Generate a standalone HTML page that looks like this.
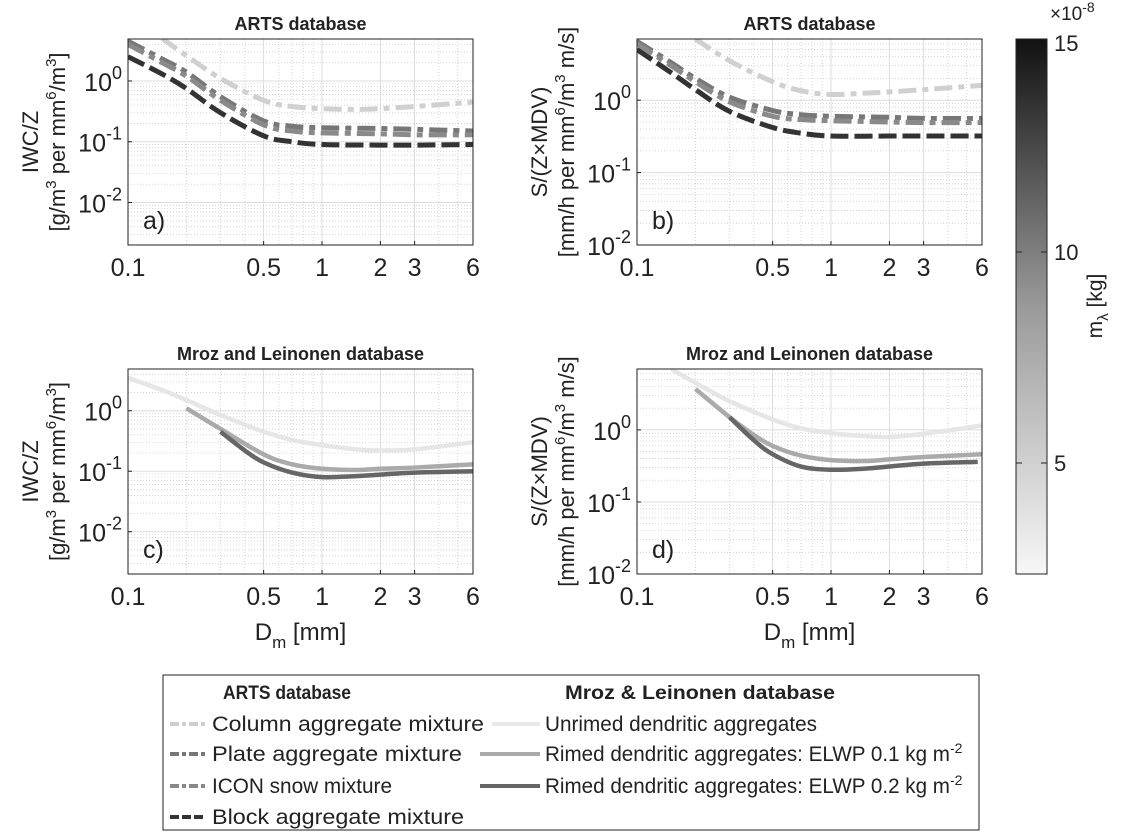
<!DOCTYPE html>
<html><head><meta charset="utf-8"><style>
body{margin:0;background:#fff;}
svg text{font-family:"Liberation Sans",Arial,sans-serif;fill:#222;}
</style></head><body>
<svg id="fig" width="1121" height="831" viewBox="0 0 1121 831" xmlns="http://www.w3.org/2000/svg">
<defs>
<linearGradient id="cbg" x1="0" y1="1" x2="0" y2="0">
<stop offset="0" stop-color="#f7f7f7"/><stop offset="0.5" stop-color="#9a9a9a"/><stop offset="1" stop-color="#111"/>
</linearGradient>
</defs>
<g id="panels"></g>
<g>
<rect x="1016" y="39" width="31" height="535" fill="url(#cbg)" stroke="#222" stroke-width="1"/>
<line x1="1016" y1="463" x2="1022" y2="463" stroke="#222"/><line x1="1041" y1="463" x2="1047" y2="463" stroke="#222"/>
<line x1="1016" y1="252" x2="1022" y2="252" stroke="#222"/><line x1="1041" y1="252" x2="1047" y2="252" stroke="#222"/>
<text x="1054" y="471" font-size="22">5</text>
<text x="1054" y="260" font-size="22">10</text>
<text x="1054" y="51" font-size="22">15</text>
<text x="1050" y="20" font-size="19">×10<tspan dy="-8" font-size="14">-8</tspan></text>
<text transform="translate(1102,306) rotate(-90)" text-anchor="middle" font-size="21">m<tspan dy="6" font-size="15">λ</tspan><tspan dy="-6"> [kg]</tspan></text>
</g>
<g>
<rect x="163" y="675" width="816" height="155" fill="#fff" stroke="#222" stroke-width="1"/>
<text x="287" y="699" font-size="19" font-weight="bold" text-anchor="middle" textLength="128" lengthAdjust="spacingAndGlyphs">ARTS database</text>
<text x="700" y="699" font-size="19" font-weight="bold" text-anchor="middle" textLength="270" lengthAdjust="spacingAndGlyphs">Mroz &amp; Leinonen database</text>
<g font-size="21">
<line x1="170" y1="724" x2="205" y2="724" stroke="#cfcfcf" stroke-width="4" stroke-dasharray="9,3,4,3"/>
<text x="212" y="731" textLength="272" lengthAdjust="spacingAndGlyphs">Column aggregate mixture</text>
<line x1="170" y1="754" x2="205" y2="754" stroke="#777" stroke-width="4" stroke-dasharray="9,3,4,3"/>
<text x="212" y="761" textLength="250" lengthAdjust="spacingAndGlyphs">Plate aggregate mixture</text>
<line x1="170" y1="786" x2="205" y2="786" stroke="#888" stroke-width="4" stroke-dasharray="9,3,4,3"/>
<text x="212" y="793" textLength="180" lengthAdjust="spacingAndGlyphs">ICON snow mixture</text>
<line x1="170" y1="817" x2="205" y2="817" stroke="#333" stroke-width="4" stroke-dasharray="9,3"/>
<text x="212" y="824" textLength="252" lengthAdjust="spacingAndGlyphs">Block aggregate mixture</text>
<line x1="492" y1="724" x2="540" y2="724" stroke="#e8e8e8" stroke-width="4"/>
<text x="545" y="731" textLength="272" lengthAdjust="spacingAndGlyphs">Unrimed dendritic aggregates</text>
<line x1="480" y1="754" x2="540" y2="754" stroke="#aaa" stroke-width="4"/>
<text x="545" y="761"><tspan textLength="405" lengthAdjust="spacingAndGlyphs">Rimed dendritic aggregates: ELWP 0.1 kg m</tspan><tspan dy="-8" font-size="14">-2</tspan></text>
<line x1="480" y1="786" x2="540" y2="786" stroke="#666" stroke-width="4"/>
<text x="545" y="793"><tspan textLength="405" lengthAdjust="spacingAndGlyphs">Rimed dendritic aggregates: ELWP 0.2 kg m</tspan><tspan dy="-8" font-size="14">-2</tspan></text>
</g>
</g>
</svg>
<script>
// Data arrays (D_m in mm, ratio values)
const aColumnX=[0.15,0.2,0.3,0.5,0.7,1,1.5,2,3,6];
const aColumnY=[5,2.6,1.1,0.48,0.38,0.35,0.34,0.35,0.38,0.45];
const aPlateX=[0.1,0.15,0.2,0.3,0.5,0.7,1,2,3,6];
const aPlateY=[4.5,2.3,1.4,0.55,0.22,0.18,0.17,0.165,0.16,0.15];
const aIconX=[0.1,0.15,0.2,0.3,0.5,0.7,1,2,3,6];
const aIconY=[4,2,1.2,0.48,0.19,0.15,0.14,0.135,0.13,0.13];
const aBlockX=[0.1,0.15,0.2,0.3,0.5,0.7,1,2,3,6];
const aBlockY=[2.5,1.3,0.75,0.3,0.125,0.1,0.09,0.088,0.088,0.09];
const bColumnX=[0.2,0.3,0.5,0.7,1,1.5,2,3,6];
const bColumnY=[7,3.5,1.8,1.35,1.2,1.25,1.3,1.4,1.6];
const bPlateX=[0.1,0.15,0.2,0.3,0.5,0.7,1,2,3,6];
const bPlateY=[6.5,3.3,2,1.1,0.72,0.63,0.6,0.58,0.56,0.56];
const bIconX=[0.1,0.15,0.2,0.3,0.5,0.7,1,2,3,6];
const bIconY=[6,3,1.8,0.95,0.6,0.54,0.52,0.5,0.49,0.49];
const bBlockX=[0.1,0.15,0.2,0.3,0.5,0.7,1,2,3,6];
const bBlockY=[5,2.4,1.4,0.7,0.42,0.35,0.32,0.32,0.32,0.32];
const cUnrimedX=[0.1,0.15,0.2,0.3,0.5,0.7,1,1.5,2,3,6];
const cUnrimedY=[3.5,2.2,1.5,0.85,0.45,0.33,0.27,0.23,0.22,0.23,0.3];
const cRimed1X=[0.2,0.3,0.5,0.7,1,1.5,2,3,6];
const cRimed1Y=[1.1,0.5,0.19,0.13,0.11,0.105,0.11,0.115,0.13];
const cRimed2X=[0.3,0.4,0.5,0.7,1,1.5,2,3,6];
const cRimed2Y=[0.45,0.22,0.14,0.095,0.08,0.083,0.088,0.095,0.1];
const dUnrimedX=[0.15,0.2,0.3,0.5,0.7,1,1.5,2,3,6];
const dUnrimedY=[7,4.5,2.5,1.4,1.05,0.9,0.82,0.8,0.88,1.15];
const dRimed1X=[0.2,0.3,0.4,0.5,0.7,1,1.5,2,3,6];
const dRimed1Y=[3.7,1.5,0.85,0.6,0.44,0.38,0.37,0.39,0.42,0.46];
const dRimed2X=[0.3,0.4,0.5,0.7,1,1.5,2,3,5.7];
const dRimed2Y=[1.5,0.72,0.46,0.31,0.28,0.29,0.31,0.34,0.36];
const xTicks=[0.1,0.5,1,2,3,6];
const xTickLabels=["0.1","0.5","1","2","3","6"];
const yTickExps=[-2,-1,0];

const NS="http://www.w3.org/2000/svg";
function mk(tag,attrs,parent){const e=document.createElementNS(NS,tag);for(const k in attrs)e.setAttribute(k,attrs[k]);parent.appendChild(e);return e;}
const root=document.getElementById('panels');
const DASHDOT="18,6,6,6", DASH="18,6";
const lab2a='[g/m<tspan dy="-9" font-size="15">3</tspan><tspan dy="9"> per mm</tspan><tspan dy="-9" font-size="15">6</tspan><tspan dy="9">/m</tspan><tspan dy="-9" font-size="15">3</tspan><tspan dy="9">]</tspan>';
const lab2b='[mm/h per mm<tspan dy="-9" font-size="15">6</tspan><tspan dy="9">/m</tspan><tspan dy="-9" font-size="15">3</tspan><tspan dy="9"> m/s]</tspan>';
const panels=[
 {id:'a',x0:128,x1:473,y0:39,y1:245,ymin:0.002,ymax:4.9,title:'ARTS database',lab1:'IWC/Z',lab2:lab2a,letter:'a)',xlabel:false,
  series:[[aColumnX,aColumnY,'#d0d0d0',DASHDOT],[aPlateX,aPlateY,'#777',DASHDOT],[aIconX,aIconY,'#8a8a8a',DASHDOT],[aBlockX,aBlockY,'#333',DASH]]},
 {id:'b',x0:637,x1:982,y0:39,y1:245,ymin:0.01,ymax:7,title:'ARTS database',lab1:'S/(Z×MDV)',lab2:lab2b,letter:'b)',xlabel:false,
  series:[[bColumnX,bColumnY,'#d0d0d0',DASHDOT],[bPlateX,bPlateY,'#777',DASHDOT],[bIconX,bIconY,'#8a8a8a',DASHDOT],[bBlockX,bBlockY,'#333',DASH]]},
 {id:'c',x0:128,x1:473,y0:369,y1:574,ymin:0.002,ymax:4.9,title:'Mroz and Leinonen database',lab1:'IWC/Z',lab2:lab2a,letter:'c)',xlabel:true,
  series:[[cUnrimedX,cUnrimedY,'#e6e6e6',null],[cRimed1X,cRimed1Y,'#aaa',null],[cRimed2X,cRimed2Y,'#666',null]]},
 {id:'d',x0:637,x1:982,y0:369,y1:574,ymin:0.01,ymax:7,title:'Mroz and Leinonen database',lab1:'S/(Z×MDV)',lab2:lab2b,letter:'d)',xlabel:true,
  series:[[dUnrimedX,dUnrimedY,'#e6e6e6',null],[dRimed1X,dRimed1Y,'#aaa',null],[dRimed2X,dRimed2Y,'#666',null]]}
];
panels.forEach(p=>{
 const g=mk('g',{},root);
 
 
 const lx0=Math.log10(0.1),lx1=Math.log10(6),ly0=Math.log10(p.ymin),ly1=Math.log10(p.ymax);
 const X=v=>p.x0+(Math.log10(v)-lx0)/(lx1-lx0)*(p.x1-p.x0);
 const Y=v=>p.y1-(Math.log10(v)-ly0)/(ly1-ly0)*(p.y1-p.y0);
 [0.2,0.3,0.4,0.6,0.7,0.8,0.9,2,3,4,5].forEach(v=>mk('line',{x1:X(v),x2:X(v),y1:p.y0,y2:p.y1,stroke:'#ccc','stroke-width':0.8,'stroke-dasharray':'1,2'},g));
 [0.5,1,2,3].forEach(v=>mk('line',{x1:X(v),x2:X(v),y1:p.y0,y2:p.y1,stroke:'#ddd','stroke-width':1},g));
 for(let e=-3;e<=1;e++){for(let m=1;m<10;m++){const v=m*Math.pow(10,e);if(v<=p.ymin||v>=p.ymax)continue;
   if(m==1)mk('line',{x1:p.x0,x2:p.x1,y1:Y(v),y2:Y(v),stroke:'#ddd','stroke-width':1},g);
   else mk('line',{x1:p.x0,x2:p.x1,y1:Y(v),y2:Y(v),stroke:'#ccc','stroke-width':0.8,'stroke-dasharray':'1,2'},g);}}
 const clip=mk('clipPath',{id:'clip'+p.id},g);mk('rect',{x:p.x0,y:p.y0,width:p.x1-p.x0,height:p.y1-p.y0},clip);
 p.series.forEach((s,i)=>{
  const xs=s[0],ys=s[1];
  const pts=xs.map((x,k)=>[X(x),Y(ys[k])]);
  let d='M'+pts[0][0]+','+pts[0][1];
  for(let k=0;k<pts.length-1;k++){const p0=pts[Math.max(0,k-1)],p1=pts[k],p2=pts[k+1],p3=pts[Math.min(pts.length-1,k+2)];
   d+=' C'+(p1[0]+(p2[0]-p0[0])/6)+','+(p1[1]+(p2[1]-p0[1])/6)+' '+(p2[0]-(p3[0]-p1[0])/6)+','+(p2[1]-(p3[1]-p1[1])/6)+' '+p2[0]+','+p2[1];}
  const attrs={d:d,fill:'none',stroke:s[2],'stroke-width':s[3]?5:4.5,'clip-path':'url(#clip'+p.id+')'};
  if(s[3])attrs['stroke-dasharray']=s[3];
  const path=mk('path',attrs,g);
  
  
 });
 mk('rect',{x:p.x0,y:p.y0,width:p.x1-p.x0,height:p.y1-p.y0,fill:'none',stroke:'#222','stroke-width':1},g);
 xTicks.forEach((v,i)=>{mk('line',{x1:X(v),x2:X(v),y1:p.y1,y2:p.y1-4,stroke:'#222'},g);
  const t=mk('text',{x:X(v),y:p.y1+31,'font-size':25,'text-anchor':'middle'},g);t.textContent=xTickLabels[i];
  
  });
 yTickExps.forEach(e=>{const v=Math.pow(10,e);if(v<p.ymin*0.999)return;
  mk('line',{x1:p.x0,x2:p.x0+4,y1:Y(v),y2:Y(v),stroke:'#222'},g);
  const t=mk('text',{x:p.x0-6,y:Y(v)+10,'font-size':25,'text-anchor':'end'},g);
  t.innerHTML='10<tspan dy="-12" font-size="18">'+e+'</tspan>';
  
  });
 const ti=mk('text',{x:(p.x0+p.x1)/2,y:p.y0-9,'font-size':18,'font-weight':'bold','text-anchor':'middle',fill:'#000'},g);ti.textContent=p.title;
 
 
 const le=mk('text',{x:p.x0+15,y:p.y1-16,'font-size':25},g);le.textContent=p.letter;
 
 
 const cy=(p.y0+p.y1)/2, bx=p.x0-98;
 const l1=mk('text',{transform:'translate('+(bx+8)+','+cy+') rotate(-90)','font-size':22,'text-anchor':'middle'},g);l1.textContent=p.lab1;
 
 
 const l2=mk('text',{transform:'translate('+(bx+35)+','+cy+') rotate(-90)','font-size':22,'text-anchor':'middle'},g);l2.innerHTML=p.lab2;
 
 
 if(p.xlabel){const xl=mk('text',{x:(p.x0+p.x1)/2,y:p.y1+66,'font-size':24,'text-anchor':'middle'},g);
  xl.innerHTML='D<tspan dy="8" font-size="17">m</tspan><tspan dy="-8"> [mm]</tspan>';
  
  }
});
</script>
</body></html>
